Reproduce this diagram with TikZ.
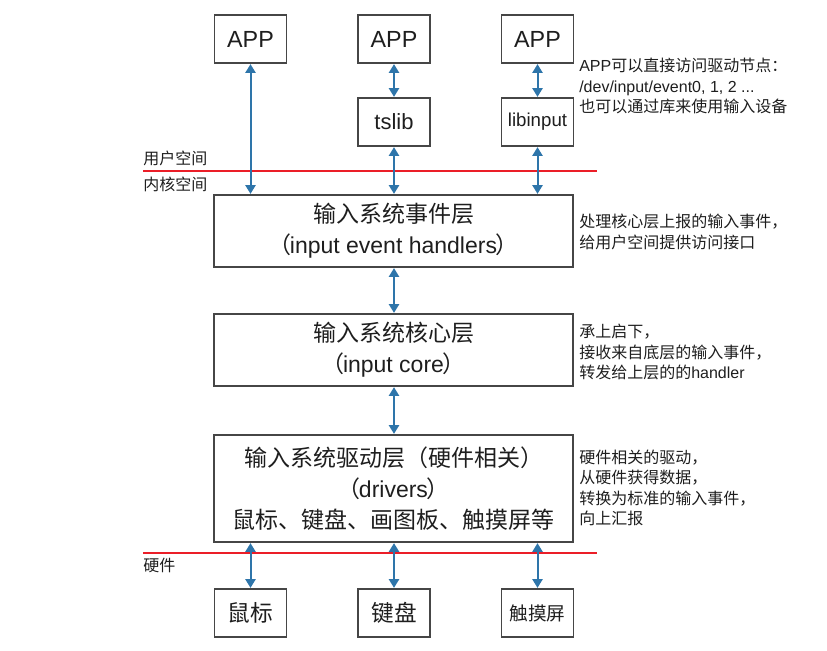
\documentclass[tikz,border=0pt]{standalone}
\usepackage{fontspec}
\setmainfont{Liberation Sans}
\newfontfamily\cjk{Noto Sans CJK SC}
\usetikzlibrary{arrows.meta}
\definecolor{arrowblue}{RGB}{46,117,170}
\definecolor{boxgray}{RGB}{70,70,70}
\definecolor{linered}{RGB}{235,30,40}
\definecolor{txt}{RGB}{30,30,30}
\begin{document}
\begin{tikzpicture}[x=0.75pt,y=-0.75pt,
  box/.style={draw=boxgray,line width=0.9pt,inner sep=0pt,text=txt},
  small/.style={box,minimum width=54pt,minimum height=36pt},
  big/.style={box,minimum width=269.25pt,minimum height=54pt,align=center,
    font=\fontsize{17.25}{23}\selectfont},
  link/.style={arrowblue,line width=1.5pt,
    {Triangle[length=6.5pt,width=7.5pt]}-{Triangle[length=6.5pt,width=7.5pt]},
    shorten <=0.4pt,shorten >=0.4pt},
  sep/.style={linered,line width=1.7pt},
  lab/.style={anchor=west,inner sep=0pt,text=txt,font=\fontsize{12}{15}\selectfont\cjk},
  note/.style={anchor=west,align=left,inner sep=0pt,text=txt,
    font=\fontsize{12}{15.4}\selectfont\cjk}]
\useasboundingbox (0,0) rectangle (827,650);

% user space boxes
\node[small,font=\fontsize{17.5}{20}\selectfont] (app1) at (250.5,39) {APP};
\node[small,font=\fontsize{17.5}{20}\selectfont] (app2) at (394,39) {APP};
\node[small,font=\fontsize{17.5}{20}\selectfont] (app3) at (537.5,39) {APP};
\node[small,font=\fontsize{16.5}{20}\selectfont] (tslib) at (394,122) {tslib};
\node[small,font=\fontsize{14}{18}\selectfont] (libinput) at (537.5,122) {libinput};

% kernel layers
\node[big] (event) at (393.5,231)
  {{\cjk 输入系统事件层}\\{\cjk （}\kern-1pt input event handlers\kern-1pt{\cjk ）}};
\node[big] (core) at (393.5,350)
  {{\cjk 输入系统核心层}\\{\cjk （}\kern-1pt input core\kern-1pt{\cjk ）}};
\node[big,minimum height=80.25pt] (driver) at (393.5,488.5)
  {{\cjk 输入系统驱动层（硬件相关）}\\{\cjk （}\kern-1pt drivers\kern-1pt{\cjk ）}\\{\cjk 鼠标、键盘、画图板、触摸屏等}};

% hardware boxes
\node[small,font=\fontsize{17}{20}\selectfont\cjk] (mouse) at (250.5,613) {鼠标};
\node[small,font=\fontsize{17}{20}\selectfont\cjk] (kbd) at (394,613) {键盘};
\node[small,font=\fontsize{14}{18}\selectfont\cjk] (touch) at (537.5,613) {触摸屏};

% separators
\coordinate (s1l) at (143,171);
\coordinate (s1r) at (597,171);
\coordinate (s2l) at (143,553);
\coordinate (s2r) at (597,553);
\draw[sep] (s1l) -- (s1r);
\draw[sep] (s2l) -- (s2r);
\node[lab] (us) at (143,158) {用户空间};
\node[lab] (ks) at (143,184) {内核空间};
\node[lab] (hw) at (143,565) {硬件};

% connectors
\draw[link] (app1.south) -- (app1.south |- event.north);
\draw[link] (app2.south) -- (tslib.north);
\draw[link] (tslib.south) -- (tslib.south |- event.north);
\draw[link] (app3.south) -- (libinput.north);
\draw[link] (libinput.south) -- (libinput.south |- event.north);
\draw[link] (event.south -| tslib.south) -- (core.north -| tslib.south);
\draw[link] (core.south -| tslib.south) -- (driver.north -| tslib.south);
\draw[link] (driver.south -| mouse.north) -- (mouse.north);
\draw[link] (driver.south -| kbd.north) -- (kbd.north);
\draw[link] (driver.south -| touch.north) -- (touch.north);

% notes
\node[note] (n1) at (579,86)
  {{\rmfamily APP}可以直接访问驱动节点：\\{\rmfamily /dev/input/event0, 1, 2 ...}\\也可以通过库来使用输入设备};
\node[note] (n2) at (579,232)
  {处理核心层上报的输入事件，\\给用户空间提供访问接口};
\node[note] (n3) at (579,352)
  {承上启下，\\接收来自底层的输入事件，\\转发给上层的的{\rmfamily handler}};
\node[note] (n4) at (579,488)
  {硬件相关的驱动，\\从硬件获得数据，\\转换为标准的输入事件，\\向上汇报};
\end{tikzpicture}
\end{document}
